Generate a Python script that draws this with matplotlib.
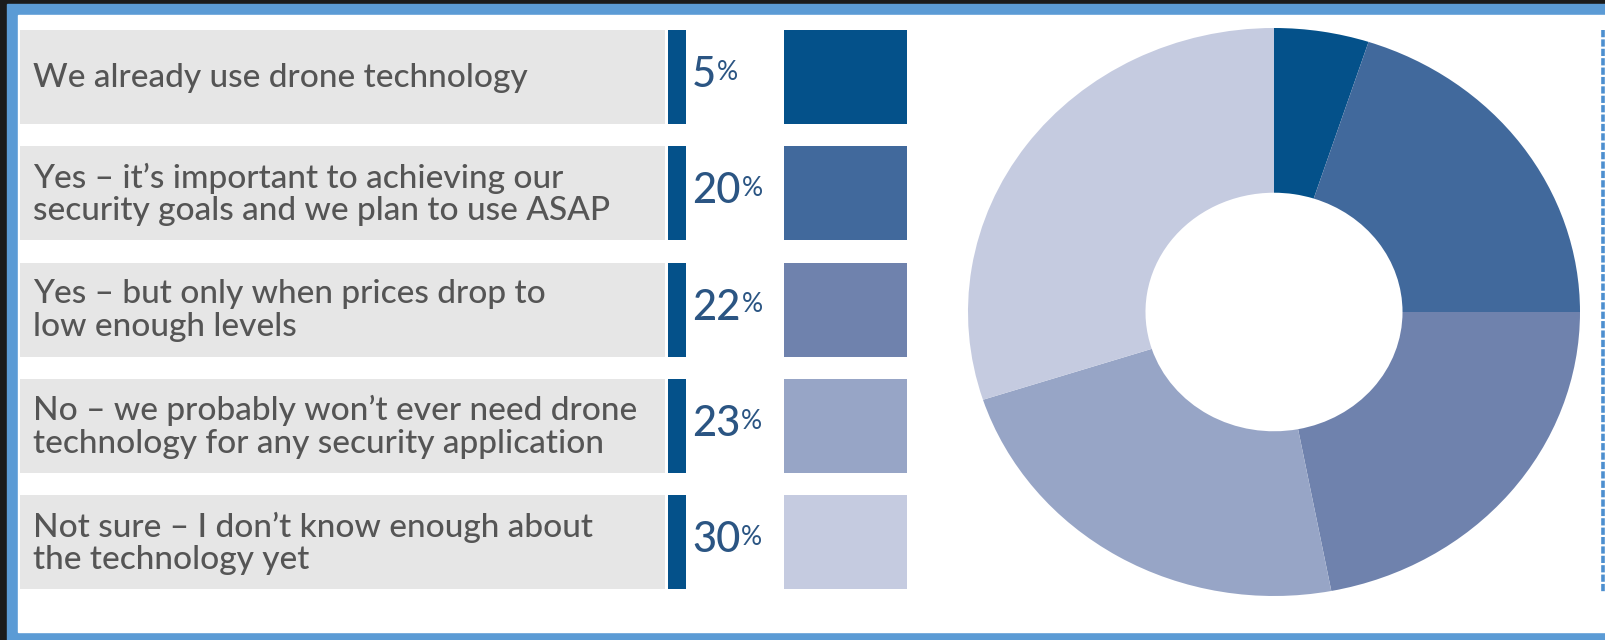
import numpy as np
import matplotlib.pyplot as plt
from matplotlib.patches import Rectangle

# survey answers
labels = [
    "We already use drone technology",
    "Yes \u2013 it\u2019s important to achieving our\nsecurity goals and we plan to use ASAP",
    "Yes \u2013 but only when prices drop to\nlow enough levels",
    "No \u2013 we probably won\u2019t ever need drone\ntechnology for any security application",
    "Not sure \u2013 I don\u2019t know enough about\nthe technology yet",
]
shares = [5, 20, 22, 23, 30]
colors = ["#04518a", "#41699c", "#6f82ad", "#97a5c6", "#c5cbe0"]

W, H = 1606, 640
fig = plt.figure(figsize=(W / 100, H / 100), dpi=100)
fig.patch.set_facecolor("#1b1b1b")

# full-figure axes in pixel units (y down)
ax = fig.add_axes([0, 0, 1, 1])
ax.set_xlim(0, W)
ax.set_ylim(H, 0)
ax.axis("off")

# frame
ax.add_patch(Rectangle((7, 4), W - 7, H - 4, color="#5b9bd5", zorder=0))
ax.add_patch(Rectangle((18, 15), W - 18, 617, color="white", zorder=1))
ax.plot([1603, 1603], [30, 592], color="#4d8fcf", lw=2.6, ls=(0, (2, 0.6)), zorder=2)

# rows
top0, pitch, hgt = 30, 116.3, 94
ys = [top0 + i * pitch + hgt / 2 for i in range(len(labels))]
ax.barh(ys, 645, left=20, height=hgt, color="#e6e6e6", zorder=2)
ax.barh(ys, 18, left=668, height=hgt, color="#04518a", zorder=2)
ax.barh(ys, 123, left=784, height=hgt, color=colors, zorder=2)

for y, lab, v in zip(ys, labels, shares):
    ax.text(33, y + 1, lab, fontsize=24, family="Lato", fontweight="medium",
            color="#555555", va="center", ha="left", linespacing=1.1, zorder=3)
    t = ax.text(692, y - 2, str(v), fontsize=30, family="Lato", fontweight="medium",
                color="#2b5583", va="center", ha="left", zorder=3)
    ax.annotate("%", xy=(1.02, 0.9), xycoords=t, fontsize=19, family="Lato",
                color="#2b5583", va="top", ha="left", zorder=3)

# donut
dax = fig.add_axes([968 / W, (H - 596) / H, 612 / W, 568 / H])
dax.pie(shares, colors=colors, startangle=90, counterclock=False,
        radius=1, wedgeprops=dict(width=0.58, linewidth=0))
dax.set_aspect("auto")
dax.set_xlim(-1, 1)
dax.set_ylim(-1, 1)
dax.axis("off")

fig.savefig("out.png", dpi=100, facecolor=fig.get_facecolor())
